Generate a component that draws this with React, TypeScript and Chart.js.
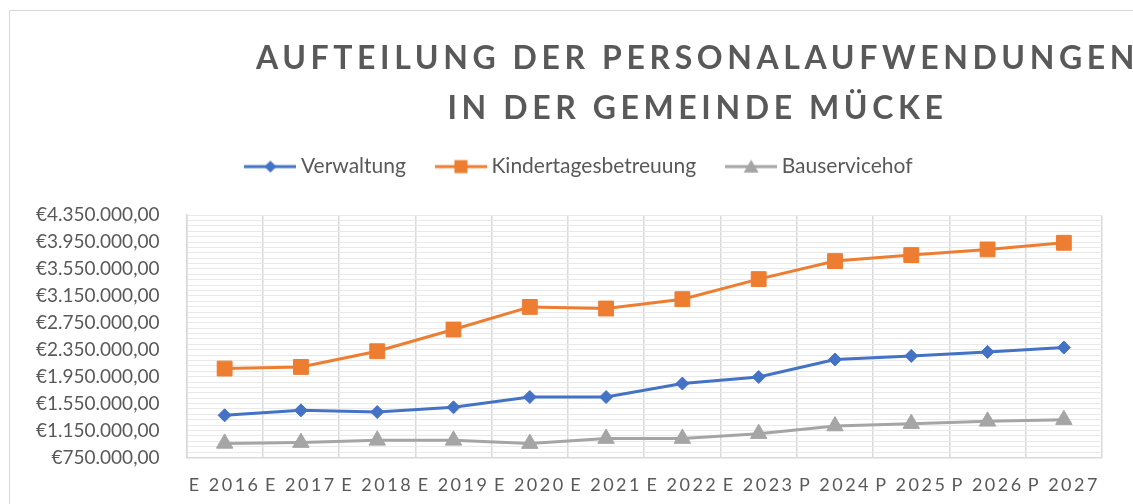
import React, { useEffect, useRef } from 'react';
import { Chart, registerables } from 'chart.js';

Chart.register(...registerables);

const categories = ['E 2016', 'E 2017', 'E 2018', 'E 2019', 'E 2020', 'E 2021', 'E 2022', 'E 2023', 'P 2024', 'P 2025', 'P 2026', 'P 2027'];
const seriesNames = ['Verwaltung', 'Kindertagesbetreuung', 'Bauservicehof'];
const verwaltung = [1375000, 1449000, 1424000, 1494000, 1647000, 1647000, 1847000, 1945000, 2204000, 2258000, 2317000, 2382000];
const kindertagesbetreuung = [2070000, 2094000, 2327000, 2650000, 2986000, 2962000, 3101000, 3399000, 3667000, 3756000, 3840000, 3939000];
const bauservicehof = [958000, 970000, 1003000, 1003000, 955000, 1030000, 1030000, 1103000, 1216000, 1251000, 1286000, 1311000];
const yMajorTicks = [750000, 1150000, 1550000, 1950000, 2350000, 2750000, 3150000, 3550000, 3950000, 4350000];
const titleLines = ['AUFTEILUNG DER PERSONALAUFWENDUNGEN', 'IN DER GEMEINDE MÜCKE'];

const BLUE = '#4472C4';
const ORANGE = '#ED7D31';
const GRAY = '#A5A5A5';
const TEXT = '#595959';

function formatEuro(v: number): string {
  const s = Math.round(v).toString().replace(/\B(?=(\d{3})+(?!\d))/g, '.');
  return '€' + s + ',00';
}

function makeLegendIcon(color: string, style: string): HTMLCanvasElement {
  const c = document.createElement('canvas');
  c.width = 52;
  c.height = 18;
  const ctx = c.getContext('2d')!;
  const cy = 9;
  const cx = 26;
  ctx.strokeStyle = color;
  ctx.fillStyle = color;
  ctx.lineWidth = 3;
  ctx.beginPath();
  ctx.moveTo(0, cy);
  ctx.lineTo(52, cy);
  ctx.stroke();
  ctx.beginPath();
  if (style === 'diamond') {
    ctx.moveTo(cx - 6, cy);
    ctx.lineTo(cx, cy - 6);
    ctx.lineTo(cx + 6, cy);
    ctx.lineTo(cx, cy + 6);
  } else if (style === 'square') {
    ctx.rect(cx - 6.5, cy - 6.5, 13, 13);
  } else {
    ctx.moveTo(cx, cy - 7);
    ctx.lineTo(cx + 7.5, cy + 6);
    ctx.lineTo(cx - 7.5, cy + 6);
  }
  ctx.closePath();
  ctx.fill();
  return c;
}

function wrapDraw(obj: any, key: string, flag: string, fn: (ctx: CanvasRenderingContext2D) => void) {
  if (!obj || obj[flag]) return;
  const orig = obj[key];
  obj[key] = function (...args: any[]) {
    const ctx = this.ctx;
    ctx.save();
    fn(ctx);
    orig.apply(this, args);
    ctx.restore();
  };
  obj[flag] = true;
}

const tweakPlugin = {
  id: 'tweaks',
  beforeLayout(chart: any) {
    const lg = chart.legend;
    if (lg && !lg._fitWrapped) {
      const orig = lg.fit;
      lg.fit = function (...args: any[]) {
        orig.apply(this, args);
        this.height += 29;
      };
      lg._fitWrapped = true;
    }
  },
  beforeDraw(chart: any) {
    wrapDraw(chart.titleBlock, 'draw', '_lsWrapped', (ctx) => {
      (ctx as any).letterSpacing = '4.6px';
      ctx.translate(125, 14);
    });
    wrapDraw(chart.legend, 'draw', '_shiftWrapped', (ctx) => {
      ctx.translate(9, 1);
    });
    wrapDraw(chart.scales.x, 'drawLabels', '_lsWrapped', (ctx) => {
      (ctx as any).letterSpacing = '2.5px';
      ctx.translate(0, 9);
    });
    wrapDraw(chart.scales.y, 'drawLabels', '_lsWrapped', (ctx) => {
      ctx.translate(-17, 0);
    });
  },
};

export default function App() {
  const ref = useRef<HTMLCanvasElement | null>(null);

  useEffect(() => {
    if (!ref.current) return;
    Chart.defaults.font.family = 'Lato';
    const icons = [makeLegendIcon(BLUE, 'diamond'), makeLegendIcon(ORANGE, 'square'), makeLegendIcon(GRAY, 'triangle')];
    const chart = new Chart(ref.current, {
      type: 'line',
      data: {
        labels: categories,
        datasets: [
          {
            label: seriesNames[0],
            data: verwaltung,
            borderColor: BLUE,
            backgroundColor: BLUE,
            borderWidth: 3,
            pointStyle: 'rectRot',
            pointRadius: 6.5,
            pointBorderWidth: 1,
            tension: 0,
          },
          {
            label: seriesNames[1],
            data: kindertagesbetreuung,
            borderColor: ORANGE,
            backgroundColor: ORANGE,
            borderWidth: 3,
            pointStyle: 'rect',
            pointRadius: 10.5,
            pointBorderWidth: 1,
            tension: 0,
          },
          {
            label: seriesNames[2],
            data: bauservicehof,
            borderColor: GRAY,
            backgroundColor: GRAY,
            borderWidth: 3,
            pointStyle: 'triangle',
            pointRadius: 9.5,
            pointBorderWidth: 1,
            tension: 0,
          },
        ],
      },
      options: {
        animation: false,
        responsive: false,
        layout: { padding: { top: 8, left: 33, right: 31, bottom: 9 } },
        plugins: {
          title: {
            display: true,
            text: titleLines,
            color: TEXT,
            font: { family: 'Lato', size: 32, weight: 'bold', lineHeight: 1.58 },
            padding: 0,
          },
          legend: {
            labels: {
              usePointStyle: true,
              pointStyleWidth: 40,
              padding: 35,
              color: TEXT,
              font: { family: 'Lato', size: 21 },
              generateLabels: (c: any) => {
                const items = Chart.defaults.plugins.legend.labels.generateLabels(c);
                return items.map((it: any, i: number) => ({ ...it, pointStyle: icons[i] }));
              },
            },
          },
          tooltip: { enabled: false },
        },
        scales: {
          x: {
            offset: true,
            grid: { offset: true, color: '#d9d9d9', lineWidth: 1.5, drawTicks: false },
            border: { color: '#d9d9d9', width: 1.5 },
            ticks: {
              color: TEXT,
              font: { family: 'Lato', size: 18 },
              padding: 8,
              autoSkip: false,
              maxRotation: 0,
            },
          },
          y: {
            min: 750000,
            max: 4350000,
            grid: { color: '#e9e9e9', lineWidth: 1, drawTicks: false },
            border: { color: '#d9d9d9', width: 1.5 },
            ticks: {
              stepSize: 80000,
              autoSkip: false,
              color: TEXT,
              font: { family: 'Lato', size: 19 },
              padding: 10,
              callback: (v: any) => (yMajorTicks.includes(Number(v)) ? formatEuro(Number(v)) : ''),
            },
          },
        },
      },
      plugins: [tweakPlugin],
    });
    return () => chart.destroy();
  }, []);

  return (
    <div
      style={{
        position: 'fixed',
        left: 9,
        top: 10,
        width: 1124,
        height: 494,
        borderLeft: '1px solid #d9d9d9',
        borderTop: '1px solid #d9d9d9',
        boxSizing: 'border-box',
        background: '#fff',
      }}
    >
      <canvas ref={ref} width={1123} height={493} style={{ display: 'block' }} />
    </div>
  );
}
